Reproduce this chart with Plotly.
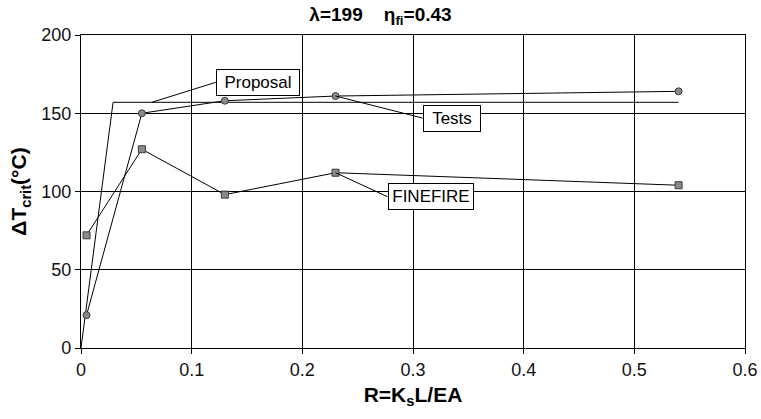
import plotly.graph_objects as go

# Critical temperature rise versus axial restraint ratio
r_tests = [0.005, 0.055, 0.13, 0.23, 0.54]
dt_tests = [21, 150, 158, 161, 164]

r_finefire = [0.005, 0.055, 0.13, 0.23, 0.54]
dt_finefire = [72, 127, 98, 112, 104]

r_proposal = [0, 0.029, 0.54]
dt_proposal = [0, 157, 157]

x_ticks = [0, 0.1, 0.2, 0.3, 0.4, 0.5, 0.6]
x_tick_text = ["0", "0.1", "0.2", "0.3", "0.4", "0.5", "0.6"]
y_ticks = [0, 50, 100, 150, 200]

FONT = "Liberation Sans, Arial, Helvetica, sans-serif"

fig = go.Figure()

fig.add_trace(go.Scatter(
    x=r_proposal, y=dt_proposal, mode="lines", name="Proposal",
    line=dict(color="black", width=1),
))
fig.add_trace(go.Scatter(
    x=r_tests, y=dt_tests, mode="lines+markers", name="Tests",
    line=dict(color="black", width=1),
    marker=dict(symbol="circle", size=7, color="#8a8a8a",
                line=dict(color="#3a3a3a", width=1)),
))
fig.add_trace(go.Scatter(
    x=r_finefire, y=dt_finefire, mode="lines+markers", name="FINEFIRE",
    line=dict(color="black", width=1),
    marker=dict(symbol="square", size=7, color="#8a8a8a",
                line=dict(color="#3a3a3a", width=1)),
))

# Boxed callout labels with leader lines
callouts = [
    ("Proposal", 0.064, 157, 64, -20, 80),
    ("Tests", r_tests[3], dt_tests[3], 87, 22, 54),
    ("FINEFIRE", r_finefire[3], dt_finefire[3], 52, 24, 82),
]
for text, x, y, ax, ay, w in callouts:
    fig.add_annotation(
        x=x, y=y, xref="x", yref="y", text=text,
        showarrow=True, arrowhead=0, arrowwidth=1, arrowcolor="black",
        ax=ax, ay=ay, axref="pixel", ayref="pixel",
        xanchor="left", yanchor="middle",
        width=w, height=23, align="center",
        bordercolor="black", borderwidth=1, borderpad=1,
        bgcolor="white",
        font=dict(family=FONT, size=17, color="black"),
    )

fig.update_layout(
    width=761, height=419,
    margin=dict(l=81, r=16, t=35, b=71),
    paper_bgcolor="white", plot_bgcolor="white",
    showlegend=False,
    font=dict(family=FONT, size=17, color="black"),
    title=dict(
        text="<b>λ=199    η<sub>fi</sub>=0.43</b>",
        x=0.5, xanchor="center", y=0.965, yanchor="middle",
        font=dict(family=FONT, size=19, color="black"),
    ),
    xaxis=dict(
        range=[0, 0.6], tickvals=x_ticks, ticktext=x_tick_text,
        automargin=False,
        showgrid=True, gridcolor="black", gridwidth=1.3,
        showline=True, linecolor="black", linewidth=1.3, mirror=True,
        ticks="outside", ticklen=5, tickcolor="black",
        zeroline=False,
        tickfont=dict(family=FONT, size=18, color="#111"),
        title=dict(text="<b>R=K<sub>s</sub>L/EA</b>", standoff=8,
                   font=dict(family=FONT, size=21, color="black")),
    ),
    yaxis=dict(
        range=[0, 200], tickvals=y_ticks,
        automargin=False,
        showgrid=True, gridcolor="black", gridwidth=1.3,
        showline=True, linecolor="black", linewidth=1.3, mirror=True,
        ticks="outside", ticklen=5, tickcolor="black",
        zeroline=False,
        tickfont=dict(family=FONT, size=18, color="#111"),
        title=dict(text="<b>ΔT<sub>crit</sub>(°C)</b>", standoff=8,
                   font=dict(family=FONT, size=21, color="black")),
    ),
)

fig.write_html("out.html")
